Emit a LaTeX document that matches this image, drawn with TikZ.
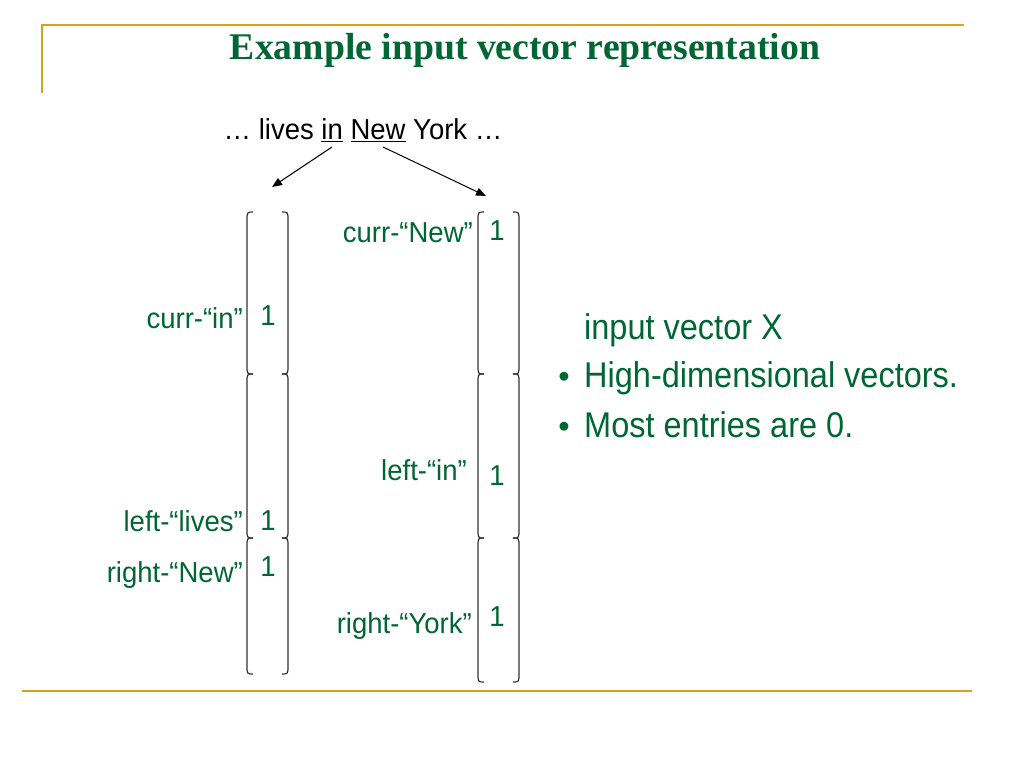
\documentclass[tikz,border=0pt]{standalone}
\usepackage{fontspec}
\setmainfont{Liberation Serif}
\setsansfont{Liberation Sans}
\usetikzlibrary{arrows.meta}
\definecolor{dgreen}{RGB}{0,102,51}
\definecolor{gold}{RGB}{214,162,32}
\definecolor{brk}{RGB}{50,50,50}
\newcommand{\tallR}[1]{\scalebox{1}[1.1]{#1}}
\newcommand{\tallL}[1]{\scalebox{1}[1.05]{#1}}
\tikzset{
  lbl/.style={font=\sffamily\fontsize{27.5}{30}\selectfont, text=dgreen, inner sep=0pt, anchor=east},
  one/.style={font=\sffamily\fontsize{27.5}{30}\selectfont, text=dgreen, inner sep=0pt},
  br/.style={draw=brk, line width=1.2pt},
  bullettext/.style={font=\sffamily\fontsize{32.5}{36}\selectfont, text=dgreen, inner sep=0pt, anchor=west},
  bulletmark/.style={font=\sffamily\fontsize{32.5}{36}\selectfont, text=dgreen, inner sep=0pt, anchor=base east},
  goldline/.style={draw=gold, line width=2.2pt},
  arr/.style={draw=black, line width=1pt, -{Triangle[length=10pt,width=8pt]}}
}
\newcommand{\vseg}[4]{% xl xr ytop ybot
  \draw[br] (#1+6,#3) .. controls (#1,#3) .. (#1,#3+9) -- (#1,#4-9) .. controls (#1,#4) .. (#1+6,#4);
  \draw[br] (#2-6,#3) .. controls (#2,#3) .. (#2,#3+9) -- (#2,#4-9) .. controls (#2,#4) .. (#2-6,#4);
}
\begin{document}
\begin{tikzpicture}[x=1pt,y=-1pt]
\useasboundingbox (0,0) rectangle (1024,768);
% frame lines
\draw[goldline] (42,93) -- (42,25) -- (964,25);
\draw[goldline] (22,691) -- (972,691);
% title
\node[font=\rmfamily\bfseries\fontsize{37.7}{40}\selectfont, text=dgreen, inner sep=0pt] (title) at (525,50) {Example input vector representation};
% sentence
\node[font=\sffamily\fontsize{27.5}{30}\selectfont, inner sep=0pt] (sent) at (363,130) {\tallL{\dots{} lives \underline{in} \underline{New} York \dots}};
\coordinate (inA) at (332,147);
\coordinate (inB) at (272,187);
\coordinate (newA) at (383,147);
\coordinate (newB) at (486,196);
\draw[arr] (inA) -- (inB);
\draw[arr] (newA) -- (newB);
% left vector
\vseg{247}{288}{212}{374}
\vseg{247}{288}{374}{538}
\vseg{247}{288}{538}{674}
% right vector
\vseg{478}{519}{212}{374}
\vseg{478}{519}{374}{538}
\vseg{478}{519}{538}{682}
% left labels
\node[lbl] (l1) at (243,318) {\tallL{curr-“in”}};
\node[one] (l1v) at (268,316) {\tallL{1}};
\node[lbl] (l2) at (243,521) {\tallL{left-“lives”}};
\node[one] (l2v) at (268,521) {\tallL{1}};
\node[lbl] (l3) at (243,575) {\tallL{right-“New”}};
\node[one] (l3v) at (268,567) {\tallL{1}};
% right labels
\node[lbl] (r1) at (473,233) {\tallL{curr-“New”}};
\node[one] (r1v) at (497,231) {\tallL{1}};
\node[lbl] (r2) at (467,470) {\tallL{left-“in”}};
\node[one] (r2v) at (497,476) {\tallL{1}};
\node[lbl] (r3) at (472,626) {\tallL{right-“York”}};
\node[one] (r3v) at (497,617) {\tallL{1}};
% right text
\node[bullettext] (t0) at (584,330) {\tallR{input vector X}};
\node[bullettext] (t1) at (584,378) {\tallR{High-dimensional vectors.}};
\node[bullettext] (t2) at (584,425) {\tallR{Most entries are 0.}};
\node[bulletmark] (b1) at ([xshift=-14pt]t1.base west) {•};
\node[bulletmark] (b2) at ([xshift=-14pt]t2.base west) {•};
\end{tikzpicture}
\end{document}
